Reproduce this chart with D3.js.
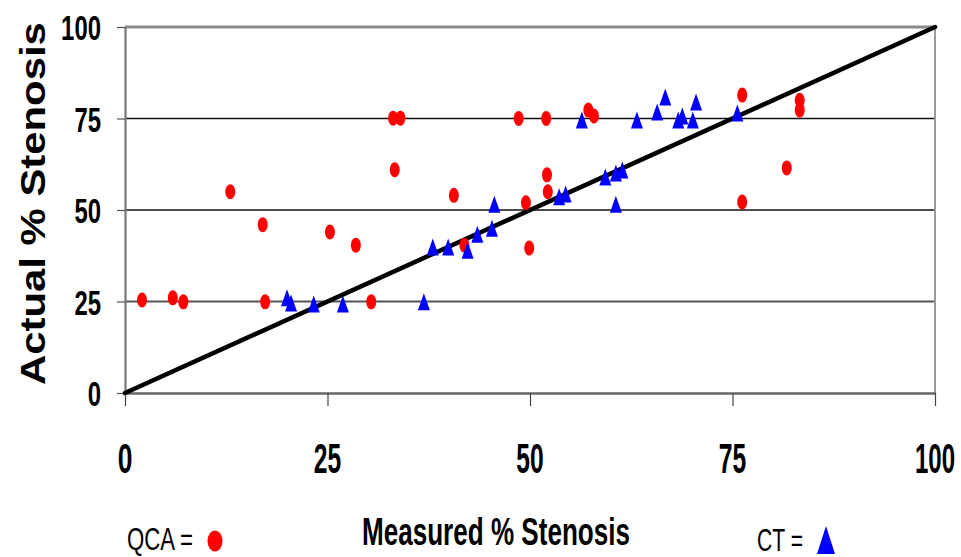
<!doctype html>
<html>
<head>
<meta charset="utf-8">
<title>Measured vs Actual % Stenosis</title>
<script src="https://cdn.jsdelivr.net/npm/d3@7/dist/d3.min.js"></script>
<style>
  body { margin: 0; background: #ffffff; }
  text { font-family: "Liberation Sans", Arial, sans-serif; }
</style>
</head>
<body>
<script>
// QCA points (red ellipses): measured vs actual
var qcaMeasured = [2.1, 5.9, 7.2, 13, 17, 17.3, 25.3, 28.5, 30.4, 33.1, 34, 33.3, 40.6, 41.9,
                   48.6, 52, 49.5, 49.9, 52.1, 52.2, 57.2, 57.9, 76.2, 76.2, 81.7, 83.3, 83.3];
var qcaActual   = [25.4, 26, 24.9, 55, 46, 24.9, 44, 40.4, 24.9, 75.1, 75.1, 61, 54, 40.4,
                   75, 75, 52, 39.6, 59.6, 55, 77.3, 75.7, 81.4, 52.2, 61.5, 80, 77.3];

// CT points (blue triangles)
var ctMeasured = [20, 20.5, 23.3, 26.9, 36.9, 38, 39.9, 42.3, 43.5, 45.3, 45.6, 53.6, 54.4,
                  56.4, 59.3, 60.6, 61.4, 60.6, 63.2, 65.7, 66.7, 68.3, 68.8, 70.1, 70.5, 75.6];
var ctActual   = [26, 24.6, 24.3, 24.3, 24.9, 39.9, 39.9, 39, 43.4, 45, 51.6, 53.6, 54.4,
                  74.6, 59, 60.1, 60.9, 51.6, 74.6, 76.8, 80.9, 74.6, 75.7, 74.6, 79.5, 76.5];

var tickValues = [0, 25, 50, 75, 100];
var gridValues = [25, 50, 75];

var w = 961;
var h = 557;

var svg = d3.select("body")
            .append("svg")
            .attr("width", w)
            .attr("height", h);

var x = d3.scaleLinear().domain([0, 100]).range([125, 935]);
var y = d3.scaleLinear().domain([0, 100]).range([393, 27]);

// squeeze a text horizontally so it is wdth pixels wide (the source font is very condensed)
// anchor: 0 = start, 0.5 = middle, 1 = end ; rot = rotation in degrees
function fitText(t, px, py, wdth, anchor, rot) {
  var len = t.node().getComputedTextLength();
  var sx = wdth / len;
  t.attr("text-anchor", "start")
   .attr("x", 0).attr("y", 0)
   .attr("transform", "translate(" + px + "," + py + ") rotate(" + (rot || 0) + ") scale(" + sx + ",1) translate(" + (-anchor * len) + ",0)");
}

// horizontal grid lines
svg.selectAll("line.grid")
   .data(gridValues)
   .enter()
   .append("line")
   .attr("class", "grid")
   .attr("x1", x(0))
   .attr("x2", x(100))
   .attr("y1", function(d) { return y(d); })
   .attr("y2", function(d) { return y(d); })
   .attr("stroke", function(d) { return d == 25 ? "#555" : "#111"; })
   .attr("stroke-width", function(d) { return d == 25 ? 1.8 : 1.3; });

// frame: top and right in gray
svg.append("line")
   .attr("x1", x(0)).attr("x2", x(100))
   .attr("y1", y(100)).attr("y2", y(100))
   .attr("stroke", "#8a8a8a").attr("stroke-width", 3);
svg.append("line")
   .attr("x1", x(100)).attr("x2", x(100))
   .attr("y1", y(100)).attr("y2", y(0))
   .attr("stroke", "#9a9a9a").attr("stroke-width", 2);

// axes (lines and ticks only, labels drawn below)
var xAxis = d3.axisBottom(x)
              .tickValues(tickValues)
              .tickSize(13)
              .tickSizeOuter(0)
              .tickFormat("");
var yAxis = d3.axisLeft(y)
              .tickValues(tickValues)
              .tickSize(8)
              .tickSizeOuter(0)
              .tickFormat("");

var gx = svg.append("g")
            .attr("transform", "translate(0," + y(0) + ")")
            .call(xAxis);
gx.select(".domain").attr("stroke", "#666").attr("stroke-width", 2.5);
gx.selectAll(".tick line").attr("stroke", "#444").attr("stroke-width", 1.2);

var gy = svg.append("g")
            .attr("transform", "translate(" + x(0) + ",0)")
            .call(yAxis);
gy.select(".domain").attr("stroke", "#777").attr("stroke-width", 2.2);
gy.selectAll(".tick line").attr("stroke", "#555").attr("stroke-width", 1.2);

// tick labels
tickValues.forEach(function(d) {
  var s = String(d);
  var t = svg.append("text")
             .text(s)
             .attr("font-size", "43px")
             .attr("font-weight", "bold");
  fitText(t, x(d), 473, s.length * 12.7 + 2, 0.5);

  var t2 = svg.append("text")
              .text(s)
              .attr("font-size", "36px")
              .attr("font-weight", "bold");
  fitText(t2, 101, y(d) + 13, s.length * 13.3, 1);
});

// identity line
svg.append("line")
   .attr("x1", x(0)).attr("y1", y(0))
   .attr("x2", x(100)).attr("y2", y(100))
   .attr("stroke", "#000")
   .attr("stroke-width", 4.5)
   .attr("stroke-linecap", "round");

// triangle path centred on 0,0
function tri(wd, ht) {
  return "M0," + (-ht / 2) + "L" + (wd / 2) + "," + (ht / 2) + "L" + (-wd / 2) + "," + (ht / 2) + "Z";
}

// QCA markers
svg.selectAll("ellipse.qca")
   .data(qcaMeasured)
   .enter()
   .append("ellipse")
   .attr("class", "qca")
   .attr("cx", function(d) { return x(d); })
   .attr("cy", function(d, i) { return y(qcaActual[i]); })
   .attr("rx", 5)
   .attr("ry", 7.5)
   .attr("fill", "#ff0000");

// CT markers
svg.selectAll("path.ct")
   .data(ctMeasured)
   .enter()
   .append("path")
   .attr("class", "ct")
   .attr("d", tri(12, 17))
   .attr("transform", function(d, i) { return "translate(" + x(d) + "," + y(ctActual[i]) + ")"; })
   .attr("fill", "#0000ff");

// axis titles
var xt = svg.append("text")
            .text("Measured % Stenosis")
            .attr("font-size", "38px")
            .attr("font-weight", "bold");
fitText(xt, 496, 545, 268, 0.5);

var yt = svg.append("text")
            .text("Actual % Stenosis")
            .attr("font-size", "35px")
            .attr("font-weight", "bold");
fitText(yt, 45, 203.5, 363, 0.5, -90);

// legend
var l1 = svg.append("text")
            .text("QCA =")
            .attr("font-size", "31px");
fitText(l1, 127, 550, 66, 0);
svg.append("ellipse")
   .attr("cx", 215).attr("cy", 541)
   .attr("rx", 7.5).attr("ry", 10.5)
   .attr("fill", "#ff0000");

var l2 = svg.append("text")
            .text("CT =")
            .attr("font-size", "31px");
fitText(l2, 757, 551, 46, 0);
svg.append("path")
   .attr("d", tri(18, 28))
   .attr("transform", "translate(826,540)")
   .attr("fill", "#0000ff");
</script>
</body>
</html>
